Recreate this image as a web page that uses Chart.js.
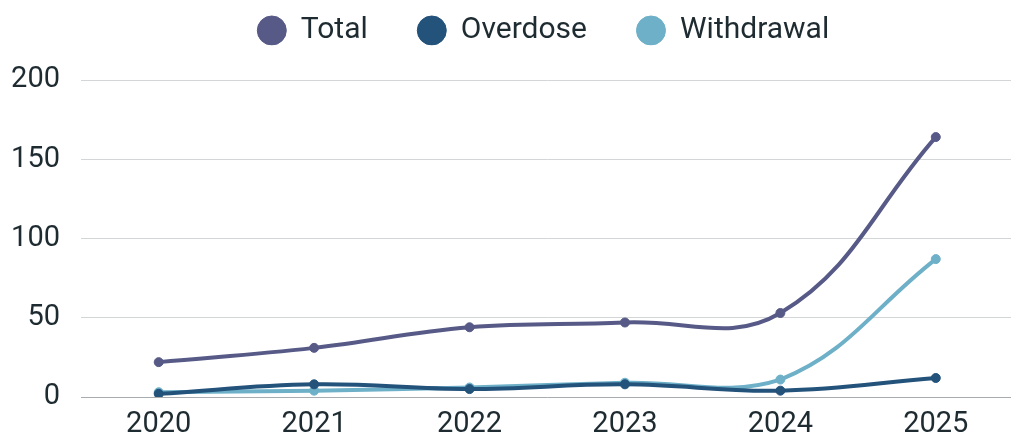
<!DOCTYPE html>
<html>
<head>
<meta charset="utf-8">
<script src="https://cdn.jsdelivr.net/npm/chart.js@4.4.1/dist/chart.umd.min.js"></script>
<style>
html,body{margin:0;padding:0;background:#fff;overflow:hidden;}
#wrap{width:1019px;height:436px;position:relative;}
</style>
</head>
<body>
<div id="wrap"><canvas id="c"></canvas></div>
<script>
const years = ["2020","2021","2022","2023","2024","2025"];
const totalValues = [22, 31, 44, 47, 53, 164];
const overdoseValues = [2, 8, 5, 8, 4, 12];
const withdrawalValues = [3, 4, 6, 9, 11, 87];
const yTicks = [0, 50, 100, 150, 200];

const textColor = '#1e2b31';
const fontFamily = 'Roboto, sans-serif';

function ds(label, data, color){
  return {label, data, borderColor: color, backgroundColor: color,
    pointBackgroundColor: color, pointBorderColor: color,
    borderWidth: 4, pointRadius: 4.5, pointBorderWidth: 1, pointHoverRadius: 4.5,
    tension: 0.4, fill: false};
}

const legendPad = {
  id: 'legendPad',
  beforeInit(chart){
    const lg = chart.legend;
    const origFit = lg.fit;
    lg.fit = function(){
      origFit.call(this);
      this.height = 80;
    };
    const origDraw = lg.draw;
    lg.draw = function(){
      const ctx = this.ctx;
      ctx.save();
      ctx.translate(34, -34.5);
      origDraw.apply(this, arguments);
      ctx.restore();
    };
  }
};

new Chart(document.getElementById('c'), {
  type: 'line',
  data: {
    labels: years,
    datasets: [
      ds('Total', totalValues, '#575a87'),
      ds('Overdose', overdoseValues, '#23527a'),
      ds('Withdrawal', withdrawalValues, '#6eb0c8')
    ]
  },
  plugins: [legendPad],
  options: {
    responsive: true,
    maintainAspectRatio: false,
    animation: false,
    layout: {padding: 0},
    plugins: {
      tooltip: {enabled: false},
      legend: {
        position: 'top',
        labels: {
          usePointStyle: true,
          pointStyle: 'circle',
          boxHeight: 20.5,
          boxWidth: 28,
          color: textColor,
          padding: 50,
          font: {family: fontFamily, size: 30}
        }
      }
    },
    scales: {
      x: {
        offset: true,
        grid: {display: false, drawTicks: false},
        border: {display: false},
        afterFit: (axis) => { axis.height = 39; },
        ticks: {color: textColor, padding: 10, font: {family: fontFamily, size: 29}, maxRotation: 0}
      },
      y: {
        min: 0, max: 200,
        afterBuildTicks: (axis) => { axis.ticks = yTicks.map(v => ({value: v})); },
        afterFit: (axis) => { axis.width = 81; },
        grid: {
          drawTicks: false,
          color: (c) => c.tick && c.tick.value === 0 ? '#a8acae' : '#d3d6d7',
          lineWidth: 1
        },
        border: {display: false},
        ticks: {color: textColor, padding: 21, font: {family: fontFamily, size: 29}}
      }
    }
  }
});
</script>
</body>
</html>
